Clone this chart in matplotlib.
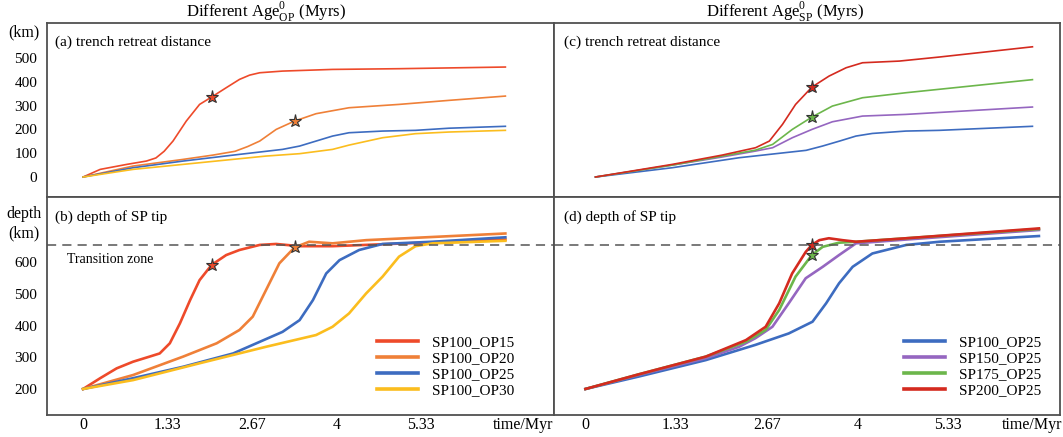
import matplotlib
matplotlib.use('Agg')
import matplotlib.pyplot as plt
from matplotlib.lines import Line2D

plt.rcParams['font.family'] = ['Liberation Serif', 'DejaVu Serif']
plt.rcParams['mathtext.fontset'] = 'custom'
plt.rcParams['mathtext.rm'] = 'Liberation Serif'
plt.rcParams['lines.solid_joinstyle'] = 'round'

# ---- (a) trench retreat, different OP age ----
a_red_t = [0, 0.27, 0.69, 1.00, 1.15, 1.28, 1.42, 1.63, 1.84, 2.03, 2.26, 2.47, 2.63, 2.79, 3.15, 3.94, 4.99, 6.67]
a_red_v = [0, 32, 53, 67, 80, 108, 151, 235, 305, 336, 375, 410, 428, 438, 445, 452, 455, 462]
a_org_t = [0, 0.79, 1.58, 2.05, 2.40, 2.60, 2.79, 3.05, 3.34, 3.68, 4.20, 4.99, 5.78, 6.67]
a_org_v = [0, 46, 74, 92, 108, 128, 151, 200, 235, 266, 291, 305, 322, 340]
a_blu_t = [0, 0.79, 1.58, 2.37, 3.15, 3.42, 3.68, 3.94, 4.20, 4.73, 5.25, 5.78, 6.67]
a_blu_v = [0, 39, 67, 92, 116, 130, 151, 172, 186, 193, 196, 205, 213]
a_yel_t = [0, 0.79, 1.84, 2.89, 3.42, 3.94, 4.20, 4.73, 5.25, 5.78, 6.67]
a_yel_v = [0, 32, 60, 88, 98, 116, 134, 165, 182, 189, 196]
a_stars = [(2.03, 336), (3.34, 235)]

# ---- (b) depth of SP tip, different OP age ----
b_red_t = [0, 0.27, 0.53, 0.79, 1.05, 1.21, 1.37, 1.53, 1.69, 1.84, 2.03, 2.26, 2.47, 2.79, 3.05, 3.42, 3.94, 6.67]
b_red_v = [200, 234, 265, 286, 302, 312, 344, 407, 480, 543, 591, 622, 638, 654, 657, 650, 650, 671]
b_org_t = [0, 0.79, 1.58, 2.11, 2.47, 2.68, 2.89, 3.10, 3.34, 3.57, 3.94, 4.47, 6.67]
b_org_v = [200, 244, 302, 344, 386, 428, 512, 596, 646, 664, 659, 669, 690]
b_blu_t = [0, 0.79, 1.58, 2.37, 3.15, 3.42, 3.63, 3.84, 4.05, 4.36, 4.73, 5.52, 6.67]
b_blu_v = [200, 234, 270, 312, 380, 417, 480, 564, 606, 638, 657, 664, 678]
b_yel_t = [0, 0.79, 1.84, 2.89, 3.68, 3.94, 4.20, 4.47, 4.73, 4.99, 5.25, 5.52, 6.67]
b_yel_v = [200, 228, 281, 333, 370, 396, 438, 501, 554, 617, 650, 659, 667]
b_stars = [(2.03, 591), (3.34, 646)]

# ---- (c) trench retreat, different SP age ----
c_red_t = [0, 1.17, 1.93, 2.44, 2.65, 2.85, 3.05, 3.30, 3.56, 3.82, 4.07, 4.63, 5.24, 6.66]
c_red_v = [0, 53, 92, 123, 151, 221, 305, 378, 424, 459, 480, 487, 504, 547]
c_grn_t = [0, 1.17, 1.93, 2.44, 2.70, 3.00, 3.30, 3.61, 4.07, 4.73, 6.66]
c_grn_v = [0, 50, 88, 113, 137, 200, 252, 298, 333, 354, 409]
c_pur_t = [0, 1.17, 1.93, 2.44, 2.70, 3.00, 3.30, 3.61, 4.07, 4.73, 6.66]
c_pur_v = [0, 50, 84, 109, 123, 165, 200, 232, 256, 263, 294]
c_blu_t = [0, 1.17, 2.19, 3.21, 3.46, 3.72, 3.97, 4.22, 4.73, 5.24, 6.66]
c_blu_v = [0, 39, 81, 112, 130, 151, 172, 183, 193, 196, 213]
c_stars = [(3.30, 378), (3.30, 252)]

# ---- (d) depth of SP tip, different SP age ----
d_blu_t = [0, 0.78, 1.77, 2.50, 2.99, 3.34, 3.54, 3.73, 3.93, 4.22, 4.72, 5.21, 6.67]
d_blu_v = [200, 239, 291, 339, 375, 412, 470, 533, 585, 627, 654, 664, 682]
d_pur_t = [0, 0.78, 1.77, 2.26, 2.50, 2.75, 2.99, 3.24, 3.49, 3.73, 3.98, 4.72, 6.67]
d_pur_v = [200, 244, 297, 333, 360, 396, 470, 549, 585, 622, 659, 671, 701]
d_grn_t = [0, 0.78, 1.77, 2.36, 2.65, 2.85, 3.09, 3.33, 3.49, 3.73, 3.98, 4.72, 6.67]
d_grn_v = [200, 246, 302, 349, 386, 449, 554, 622, 648, 661, 664, 675, 704]
d_red_t = [0, 0.78, 1.77, 2.36, 2.65, 2.85, 3.04, 3.24, 3.33, 3.44, 3.58, 3.78, 3.98, 4.72, 6.67]
d_red_v = [200, 246, 302, 354, 396, 470, 564, 632, 654, 669, 675, 669, 664, 675, 706]
d_stars = [(3.33, 654), (3.33, 622)]

transition_depth = 655
time_ticks = [0, 1.33, 2.67, 4, 5.33]
time_labels = ['0', '1.33', '2.67', '4', '5.33']
left_names = ['SP100_OP15', 'SP100_OP20', 'SP100_OP25', 'SP100_OP30']
right_names = ['SP100_OP25', 'SP150_OP25', 'SP175_OP25', 'SP200_OP25']

# colours
L_RED, L_ORG, L_BLU, L_YEL = '#ee4a2a', '#ef8038', '#3d6cc0', '#fbbd1e'
R_BLU, R_PUR, R_GRN, R_RED = '#3d6cc0', '#9566c0', '#6cb64b', '#d42a1f'

fig = plt.figure(figsize=(10.63, 4.37), dpi=100)
gs = fig.add_gridspec(2, 2, height_ratios=[174, 218], hspace=0, wspace=0,
                      left=47/1063, right=1060/1063, top=1-23/437, bottom=1-415/437)
ax_a = fig.add_subplot(gs[0, 0])
ax_b = fig.add_subplot(gs[1, 0])
ax_c = fig.add_subplot(gs[0, 1])
ax_d = fig.add_subplot(gs[1, 1])

for ax in (ax_a, ax_b, ax_c, ax_d):
    for s in ax.spines.values():
        s.set_color('#505050')
        s.set_linewidth(1.3)
    ax.tick_params(axis='y', length=0, labelsize=11, pad=7)
    ax.tick_params(axis='x', length=0, labelsize=11.5, pad=1.5)

# (a)
for t, v, c in [(a_red_t, a_red_v, L_RED), (a_org_t, a_org_v, L_ORG),
                (a_blu_t, a_blu_v, L_BLU), (a_yel_t, a_yel_v, L_YEL)]:
    ax_a.plot(t, v, color=c, lw=1.2)
for (x, y), c in zip(a_stars, [L_RED, L_ORG]):
    ax_a.plot(x, y, marker='*', ms=9.5, mfc=c, mec='#333333', mew=0.8)
ax_a.set_xlim(-0.57, 7.43)
ax_a.set_ylim(-84, 647)
ax_a.set_yticks([0, 100, 200, 300, 400, 500])
ax_a.set_xticks([])
ax_a.text(0.015, 0.93, '(a) trench retreat distance', transform=ax_a.transAxes,
          fontsize=11, va='top')

# (b)
for t, v, c in [(b_red_t, b_red_v, L_RED), (b_org_t, b_org_v, L_ORG),
                (b_blu_t, b_blu_v, L_BLU), (b_yel_t, b_yel_v, L_YEL)]:
    ax_b.plot(t, v, color=c, lw=1.9)
for (x, y), c in zip(b_stars, [L_RED, L_ORG]):
    ax_b.plot(x, y, marker='*', ms=9.5, mfc=c, mec='#333333', mew=0.8)
ax_b.axhline(transition_depth, color='#555555', lw=1.1, ls=(0, (6, 4)))
ax_b.text(-0.25, 609, 'Transition zone', fontsize=10, va='center')
ax_b.set_xlim(-0.57, 7.43)
ax_b.set_ylim(118, 805)
ax_b.set_yticks([200, 300, 400, 500, 600])
ax_b.set_xticks(time_ticks)
ax_b.set_xticklabels(time_labels)
ax_b.text(0.015, 0.94, '(b) depth of SP tip', transform=ax_b.transAxes,
          fontsize=11, va='top')
h = [Line2D([], [], color=c, lw=2.6) for c in [L_RED, L_ORG, L_BLU, L_YEL]]
ax_b.legend(h, left_names, loc='lower right', frameon=False, fontsize=11,
            handlelength=2.7, handletextpad=0.9, labelspacing=0.15,
            borderaxespad=0, bbox_to_anchor=(0.935, 0.055))

# (c)
for t, v, c in [(c_blu_t, c_blu_v, R_BLU), (c_pur_t, c_pur_v, R_PUR),
                (c_grn_t, c_grn_v, R_GRN), (c_red_t, c_red_v, R_RED)]:
    ax_c.plot(t, v, color=c, lw=1.2)
for (x, y), c in zip(c_stars, [R_RED, R_GRN]):
    ax_c.plot(x, y, marker='*', ms=9.5, mfc=c, mec='#333333', mew=0.8)
ax_c.set_xlim(-0.64, 7.08)
ax_c.set_ylim(-84, 647)
ax_c.set_xticks([])
ax_c.set_yticks([])
ax_c.text(0.02, 0.93, '(c) trench retreat distance', transform=ax_c.transAxes,
          fontsize=11, va='top')

# (d)
for t, v, c in [(d_blu_t, d_blu_v, R_BLU), (d_pur_t, d_pur_v, R_PUR),
                (d_grn_t, d_grn_v, R_GRN), (d_red_t, d_red_v, R_RED)]:
    ax_d.plot(t, v, color=c, lw=1.9)
for (x, y), c in zip(d_stars, [R_RED, R_GRN]):
    ax_d.plot(x, y, marker='*', ms=9.5, mfc=c, mec='#333333', mew=0.8)
ax_d.axhline(transition_depth, color='#555555', lw=1.1, ls=(0, (6, 4)))
ax_d.set_xlim(-0.47, 6.98)
ax_d.set_ylim(118, 805)
ax_d.set_yticks([])
ax_d.set_xticks(time_ticks)
ax_d.set_xticklabels(time_labels)
ax_d.text(0.02, 0.94, '(d) depth of SP tip', transform=ax_d.transAxes,
          fontsize=11, va='top')
h = [Line2D([], [], color=c, lw=2.6) for c in [R_BLU, R_PUR, R_GRN, R_RED]]
ax_d.legend(h, right_names, loc='lower right', frameon=False, fontsize=11,
            handlelength=2.7, handletextpad=0.9, labelspacing=0.15,
            borderaxespad=0, bbox_to_anchor=(0.975, 0.055))

# axis captions
fig.text(523/1063, 1-425/437, 'time/Myr', fontsize=11.5, ha='center', va='center')
fig.text(1032/1063, 1-425/437, 'time/Myr', fontsize=11.5, ha='center', va='center')
fig.text(24/1063, 1-32/437, '(km)', fontsize=11.5, ha='center', va='center')
fig.text(24/1063, 1-214/437, 'depth', fontsize=11.5, ha='center', va='center')
fig.text(24/1063, 1-233/437, '(km)', fontsize=11.5, ha='center', va='center')
fig.text(266/1063, 1-12/437, r'Different Age$^{0}_{\mathrm{OP}}$ (Myrs)', fontsize=12,
         ha='center', va='center')
fig.text(785/1063, 1-12/437, r'Different Age$^{0}_{\mathrm{SP}}$ (Myrs)', fontsize=12,
         ha='center', va='center')

fig.savefig('out.png', dpi=100)
